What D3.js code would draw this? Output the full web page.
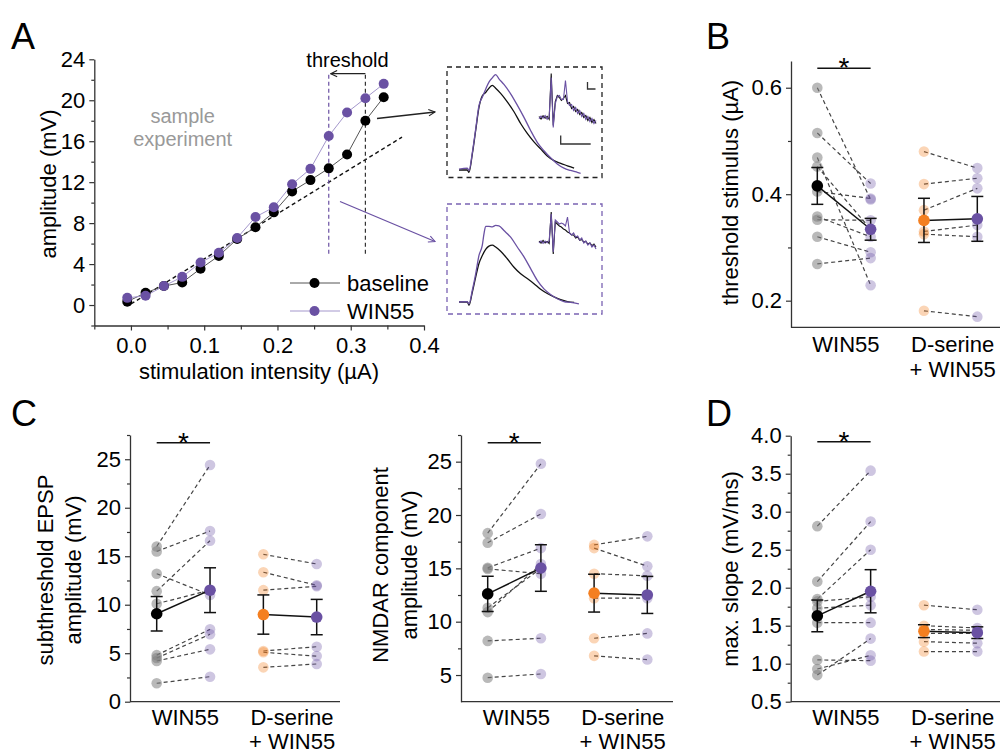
<!DOCTYPE html>
<html>
<head>
<meta charset="utf-8">
<script src="https://cdn.jsdelivr.net/npm/d3@7"></script>
<style>
  body { margin: 0; background: #fff; }
  svg { display: block; font-family: "Liberation Sans", Arial, Helvetica, sans-serif; }
</style>
</head>
<body>
<svg id="fig" width="1000" height="754"></svg>
<script>
// ---------------- data ----------------
// A: input-output curve of one sample experiment
const stimIntensity = [-0.005, 0.02, 0.045, 0.07, 0.095, 0.12, 0.145, 0.17, 0.195, 0.22, 0.245, 0.27, 0.295, 0.32, 0.345];
const ampBaseline   = [0.33, 1.2, 1.85, 2.2, 3.55, 4.8, 6.45, 7.6, 9.05, 11.1, 12.2, 13.35, 14.7, 18.0, 20.3];
const ampWin        = [0.7, 0.9, 1.85, 2.75, 4.15, 5.1, 6.55, 8.6, 9.55, 11.8, 13.3, 16.5, 18.8, 20.2, 21.6];
const fitX = [0.0, 0.37];
const fitY = [0.1, 16.4];
const thresholdX = [0.32, 0.27];          // baseline, WIN55
const thresholdSpan = [5.0, 22.6];        // amplitude range of threshold markers
const xTicksA = [0, 0.1, 0.2, 0.3, 0.4];
const xMinorA = [-0.05, 0.05, 0.15, 0.25, 0.35];
const yTicksA = [0, 4, 8, 12, 16, 20, 24];
const yMinorA = [-2, 2, 6, 10, 14, 18, 22];

// A insets: EPSP traces (time in ms, amplitude in mV)
const traceTime1  = [0, 13.7, 16.4, 21.9, 27.4, 32.8, 38.3, 43.8, 49.2, 54.7, 60.2, 68.4, 79.3, 90.3, 101.2, 112.1, 123.1, 134, 145, 156, 167, 178, 189];
const traceBase1  = [0, 0, -0.5, 3.4, 8.4, 13.3, 15.8, 16.5, 17.4, 18.0, 17.4, 16.3, 14.5, 12.4, 9.9, 7.8, 6.0, 4.5, 3.0, 2.0, 1.4, 0.9, 0.4];
const traceTimeW1 = [0, 13.7, 16.4, 21.9, 27.4, 32.8, 38.3, 43.8, 49.2, 54.7, 60.2, 65.6, 73.8, 84.8, 95.7, 106.7, 117.6, 128.5, 139.5, 150.4, 161.4, 172.3, 183.2, 194.2, 199.7];
const traceWin1   = [0.2, 0.4, -0.1, 3.7, 8.7, 13.7, 15.5, 17.2, 18.7, 19.6, 20.3, 19.4, 18.2, 16.2, 13.8, 11.2, 8.4, 5.9, 4.1, 2.6, 1.3, 0.4, -0.1, -0.5, -0.7];
const traceTime2  = [0, 13.7, 16.4, 21.9, 27.4, 32.8, 38.3, 43.8, 49.2, 54.7, 60.2, 68.4, 79.3, 90.3, 101.2, 112.1, 123.1, 134, 145, 156, 167, 178, 189];
const traceBase2  = [0, 0, -0.7, 2.1, 5.3, 8.2, 9.9, 11.2, 11.9, 12.1, 11.7, 10.8, 9.2, 7.4, 6.0, 5.0, 3.9, 2.7, 1.8, 1.1, 0.5, 0.1, -0.1];
const traceTimeW2 = [0, 13.7, 16.4, 21.9, 27.4, 32.8, 38.3, 41, 43.8, 49.2, 54.7, 60.2, 65.6, 73.8, 84.8, 95.7, 106.7, 117.6, 128.5, 139.5, 150.4, 161.4, 172.3, 183.2, 196.9];
const traceWin2   = [0, 0.1, -0.4, 2.5, 6.0, 9.9, 12.1, 14.5, 16.1, 16.1, 16.0, 16.3, 16.2, 15.2, 13.8, 11.7, 9.6, 7.1, 4.6, 2.8, 1.6, 0.7, 0.1, -0.1, -0.4];

// A insets: NMDAR component traces, sampled every 2 ms
const nmdaBase1 = [0.5, -0.8, 0.9, -0.4, 0.6, -0.9, 22, -4, 8, 11, 10, 8.5, 9.5, 11, 7, 7.5, 4.5, 5.5, 3, 4, 1.5, 2.5, 0, 1, -1.5, 0, -2.5, -1, -3];
const nmdaWin1  = [-0.6, 0.7, -0.3, 1.0, -0.9, 0.4, 20, -5, 7, 10.5, 11, 9, 9, 18.5, 8, 6, 6.5, 3.5, 5, 2, 3.5, 0.5, 2, -1, 0.5, -2, -0.5, -3, -1.5];
const nmdaBase2 = [0.4, -0.6, 0.8, -0.5, 0.3, -0.7, 15, -6, 10, 9, 8, 7.5, 6.5, 6, 5, 4.5, 3.5, 3.5, 2, 2.5, 0.8, 1.2, 0, 0.3, -1, -0.5, -1.8, -1, -2.5];
const nmdaWin2  = [-0.5, 0.6, -0.7, 0.5, -0.4, 0.7, 14, -5, 11, 10, 9, 9.5, 9, 8, 12.5, 4.5, 3.5, 4.5, 2.5, 3, 1, 2, -0.5, 0.5, -1.5, -0.5, -2.5, -1.5, -3.5];

// B: threshold stimulus (µA), paired cells
const thrBase     = [0.6, 0.515, 0.469, 0.452, 0.405, 0.358, 0.352, 0.32, 0.269];
const thrWin      = [0.39, 0.42, 0.229, 0.334, 0.392, 0.32, 0.351, 0.291, 0.28];
const thrDser     = [0.48, 0.419, 0.37, 0.33, 0.325, 0.181];
const thrDserWin  = [0.449, 0.43, 0.411, 0.342, 0.32, 0.17];

// C: subthreshold EPSP amplitude (mV)
const epspBase    = [16.0, 15.5, 11.4, 13.2, 10.1, 4.8, 4.5, 4.2, 1.9];
const epspWin     = [24.4, 17.6, 16.6, 11.0, 11.5, 7.46, 6.95, 5.4, 2.58];
const epspDser    = [15.2, 13.35, 11.5, 5.23, 5.1, 3.54];
const epspDserWin = [14.2, 12.0, 11.9, 5.67, 4.7, 3.89];

// C: NMDAR component amplitude (mV)
const nmdaAmpBase    = [18.3, 17.4, 15.05, 14.95, 11.3, 10.9, 8.2, 4.75];
const nmdaAmpWin     = [24.8, 20.1, 16.9, 14.5, 15.0, 15.4, 8.45, 5.1];
const nmdaAmpDser    = [17.2, 16.9, 14.5, 12.2, 8.45, 6.8];
const nmdaAmpDserWin = [18.0, 15.2, 14.3, 12.2, 8.9, 6.45];

// D: maximal slope (mV/ms)
const slopeBase    = [2.81, 2.08, 1.85, 1.82, 1.73, 1.54, 1.05, 0.93, 0.85];
const slopeWin     = [3.54, 2.87, 2.50, 1.88, 1.77, 1.54, 1.04, 1.11, 1.33];
const slopeDser    = [1.77, 1.50, 1.45, 1.40, 1.29, 1.16];
const slopeDserWin = [1.71, 1.47, 1.44, 1.40, 1.27, 1.16];

const groupLabels = [["WIN55"], ["D-serine", "+ WIN55"]];

// ---------------- drawing ----------------
const svg = d3.select("#fig");
const PURPLE = "#6a51a3", ORANGE = "#f47f20", AX = "#333", GRAY = "#7f7f7f";

function text(x, y, str, size, opts = {}) {
  const t = svg.append("text")
    .attr("x", x).attr("y", y)
    .attr("font-size", size)
    .attr("fill", opts.fill || "#000")
    .attr("text-anchor", opts.anchor || "middle")
    .text(str);
  if (opts.rotate) t.attr("transform", `rotate(-90,${x},${y})`);
  if (opts.weight) t.attr("font-weight", opts.weight);
  return t;
}

function styleAxis(g) {
  g.select(".domain").attr("stroke", AX).attr("stroke-width", 1.3);
  g.selectAll(".tick line").attr("stroke", AX).attr("stroke-width", 1.2);
  g.selectAll(".tick text").attr("font-size", 22).attr("fill", "#000")
    .attr("font-family", '"Liberation Sans", Arial, sans-serif');
}

const defs = svg.append("defs");
function arrowMarker(id, color) {
  defs.append("marker").attr("id", id)
    .attr("viewBox", "0 0 10 10").attr("refX", 9).attr("refY", 5)
    .attr("markerWidth", 8).attr("markerHeight", 8).attr("orient", "auto")
    .attr("markerUnits", "userSpaceOnUse")
    .append("path").attr("d", "M1,1 L9,5 L1,9").attr("fill", "none")
    .attr("stroke", color).attr("stroke-width", 1.4);
}
arrowMarker("arrK", "#222");
arrowMarker("arrP", PURPLE);

// ----- panel letters -----
[["A", 11, 49], ["B", 706, 49], ["C", 11, 426], ["D", 706, 426]].forEach(([s, x, y]) =>
  text(x, y, s, 36, { anchor: "start" }));

// ===== Panel A =====
const xA = d3.scaleLinear([-0.05, 0.4], [94.3, 424]);
const yA = d3.scaleLinear([-2, 24], [325.5, 59.3]);

const gxA = svg.append("g").attr("transform", `translate(0,${yA(-2)})`)
  .call(d3.axisBottom(xA).tickValues(xTicksA).tickSize(5).tickSizeOuter(0)
    .tickPadding(7).tickFormat(d3.format(".1f")));
styleAxis(gxA);
const gxAm = svg.append("g").attr("transform", `translate(0,${yA(-2)})`)
  .call(d3.axisBottom(xA).tickValues(xMinorA).tickSize(4).tickSizeOuter(0).tickFormat(""));
styleAxis(gxAm);
gxAm.select(".domain").remove();

const gyA = svg.append("g").attr("transform", `translate(${xA(-0.05)},0)`)
  .call(d3.axisLeft(yA).tickValues(yTicksA).tickSize(5).tickSizeOuter(0).tickPadding(4));
styleAxis(gyA);
const gyAm = svg.append("g").attr("transform", `translate(${xA(-0.05)},0)`)
  .call(d3.axisLeft(yA).tickValues(yMinorA).tickSize(3).tickSizeOuter(0).tickFormat(""));
styleAxis(gyAm);
gyAm.select(".domain").remove();

text(259, 379, "stimulation intensity (µA)", 22);
text(56, 184, "amplitude (mV)", 22, { rotate: true });

// linear fit of the low-intensity range
svg.append("line")
  .attr("x1", xA(fitX[0])).attr("y1", yA(fitY[0]))
  .attr("x2", xA(fitX[1])).attr("y2", yA(fitY[1]))
  .attr("stroke", "#111").attr("stroke-width", 1.4).attr("stroke-dasharray", "4,3");

// threshold markers
svg.append("line")
  .attr("x1", xA(thresholdX[0])).attr("x2", xA(thresholdX[0]))
  .attr("y1", yA(thresholdSpan[0])).attr("y2", yA(thresholdSpan[1]))
  .attr("stroke", "#333").attr("stroke-width", 1.2).attr("stroke-dasharray", "4,3");
svg.append("line")
  .attr("x1", xA(thresholdX[1])).attr("x2", xA(thresholdX[1]))
  .attr("y1", yA(thresholdSpan[0])).attr("y2", yA(thresholdSpan[1]))
  .attr("stroke", PURPLE).attr("stroke-width", 1.2).attr("stroke-dasharray", "4,3");
svg.append("line")
  .attr("x1", xA(thresholdX[0])).attr("x2", xA(thresholdX[1]) + 2)
  .attr("y1", yA(thresholdSpan[1])).attr("y2", yA(thresholdSpan[1]))
  .attr("stroke", "#222").attr("stroke-width", 1.2).attr("marker-end", "url(#arrK)");
text(347.5, 67, "threshold", 20);

text(182.7, 123, "sample", 20, { fill: "#999" });
text(182.7, 146, "experiment", 20, { fill: "#999" });

const lineA = d3.line().x((d, i) => xA(stimIntensity[i])).y(d => yA(d));
svg.append("path").datum(ampBaseline).attr("d", lineA)
  .attr("fill", "none").attr("stroke", "#555").attr("stroke-width", 1);
svg.append("path").datum(ampWin).attr("d", lineA)
  .attr("fill", "none").attr("stroke", "#a497cc").attr("stroke-width", 1);
svg.append("g").selectAll("circle").data(ampBaseline).join("circle")
  .attr("cx", (d, i) => xA(stimIntensity[i])).attr("cy", d => yA(d)).attr("r", 5)
  .attr("fill", "#000");
svg.append("g").selectAll("circle").data(ampWin).join("circle")
  .attr("cx", (d, i) => xA(stimIntensity[i])).attr("cy", d => yA(d)).attr("r", 5)
  .attr("fill", PURPLE);

// legend
[["baseline", "#000", "#555", 283], ["WIN55", PURPLE, "#a497cc", 311]].forEach(([s, c, lc, y]) => {
  svg.append("line").attr("x1", 290).attr("x2", 340).attr("y1", y).attr("y2", y)
    .attr("stroke", lc).attr("stroke-width", 1);
  svg.append("circle").attr("cx", 314.5).attr("cy", y).attr("r", 5).attr("fill", c);
  text(347, y + 8, s, 22, { anchor: "start" });
});

// arrows to the inset traces
svg.append("line").attr("x1", 377).attr("y1", 118.5).attr("x2", 435).attr("y2", 112)
  .attr("stroke", "#222").attr("stroke-width", 1.3).attr("marker-end", "url(#arrK)");
svg.append("line").attr("x1", 340).attr("y1", 201.5).attr("x2", 435).attr("y2", 241.5)
  .attr("stroke", PURPLE).attr("stroke-width", 1.3).attr("marker-end", "url(#arrP)");

// inset boxes
svg.append("rect").attr("x", 447).attr("y", 67).attr("width", 155).attr("height", 110.5)
  .attr("fill", "none").attr("stroke", "#222").attr("stroke-width", 1.3).attr("stroke-dasharray", "5,4");
svg.append("rect").attr("x", 447).attr("y", 204).attr("width", 155).attr("height", 110)
  .attr("fill", "none").attr("stroke", "#7a63b3").attr("stroke-width", 1.3).attr("stroke-dasharray", "5,4");

const tScale = d3.scaleLinear([0, 200], [459, 580.8]);
function epsp(times, vals, base, color) {
  const y = d3.scaleLinear([0, 1], [base, base - 4.7]);
  svg.append("path").datum(vals)
    .attr("d", d3.line().x((d, i) => tScale(times[i])).y(d => y(d)).curve(d3.curveMonotoneX))
    .attr("fill", "none").attr("stroke", color).attr("stroke-width", 1.3);
}
epsp(traceTime1, traceBase1, 170, "#111");
epsp(traceTimeW1, traceWin1, 170, PURPLE);
epsp(traceTime2, traceBase2, 302, "#111");
epsp(traceTimeW2, traceWin2, 302, PURPLE);

const sScale = d3.scaleLinear([0, 56], [539, 596]);
function nmdaTrace(vals, base, color) {
  const y = d3.scaleLinear([0, 1], [base, base - 2]);
  svg.append("path").datum(vals)
    .attr("d", d3.line().x((d, i) => sScale(i * 2)).y(d => y(d)))
    .attr("fill", "none").attr("stroke", color).attr("stroke-width", 1.1);
}
nmdaTrace(nmdaBase1, 117.5, "#111");
nmdaTrace(nmdaWin1, 117.5, PURPLE);
nmdaTrace(nmdaBase2, 242, "#111");
nmdaTrace(nmdaWin2, 242, PURPLE);

// scale bars
svg.append("path").attr("d", "M587.5,82 V89 H595.5").attr("fill", "none").attr("stroke", "#333").attr("stroke-width", 1.3);
svg.append("path").attr("d", "M560.7,135.5 V144 H590.7").attr("fill", "none").attr("stroke", "#333").attr("stroke-width", 1.3);

// ===== paired panels (B, C, D) =====
function pairedPanel(cfg) {
  const y = d3.scaleLinear(cfg.domain, [cfg.bottom, cfg.top]);
  const x = d3.scalePoint(["b0", "w0", "b1", "w1"], cfg.xRange);
  const axisX = cfg.axisX;

  const gy = svg.append("g").attr("transform", `translate(${axisX},0)`)
    .call(d3.axisLeft(y).tickValues(cfg.major).tickSize(5).tickSizeOuter(0)
      .tickPadding(4).tickFormat(d3.format(cfg.fmt)));
  styleAxis(gy);
  const gym = svg.append("g").attr("transform", `translate(${axisX},0)`)
    .call(d3.axisLeft(y).tickValues(cfg.minor).tickSize(3).tickSizeOuter(0).tickFormat(""));
  styleAxis(gym);
  gym.select(".domain").remove();
  svg.append("line").attr("x1", axisX).attr("x2", cfg.xEnd)
    .attr("y1", cfg.bottom).attr("y2", cfg.bottom)
    .attr("stroke", AX).attr("stroke-width", 1.3);

  // category labels
  groupLabels.forEach((lines, gi) => {
    const cx = (x("b" + gi) + x("w" + gi)) / 2 + 2;
    lines.forEach((s, li) => text(cx, cfg.bottom + cfg.labelGap + li * cfg.lineGap, s, 22));
  });

  cfg.groups.forEach((g, gi) => {
    const xb = x("b" + gi), xw = x("w" + gi);
    // paired dashed lines
    svg.append("g").selectAll("line").data(g.base).join("line")
      .attr("x1", xb).attr("x2", xw)
      .attr("y1", d => y(d)).attr("y2", (d, i) => y(g.drug[i]))
      .attr("stroke", "#444").attr("stroke-width", 1.2).attr("stroke-dasharray", "4,3");
    // individual cells
    svg.append("g").selectAll("circle").data(g.base).join("circle")
      .attr("cx", xb).attr("cy", d => y(d)).attr("r", 5.3)
      .attr("fill", g.baseColor).attr("fill-opacity", g.baseOpacity);
    svg.append("g").selectAll("circle").data(g.drug).join("circle")
      .attr("cx", xw).attr("cy", d => y(d)).attr("r", 5.3)
      .attr("fill", PURPLE).attr("fill-opacity", 0.33);

    // mean ± SEM
    const stats = [g.base, g.drug].map(v => {
      const m = d3.mean(v);
      const sem = d3.deviation(v) / Math.sqrt(v.length);
      return { m, sem };
    });
    svg.append("line").attr("x1", xb).attr("x2", xw)
      .attr("y1", y(stats[0].m)).attr("y2", y(stats[1].m))
      .attr("stroke", "#111").attr("stroke-width", 1.5);
    [[xb, stats[0], g.meanColor], [xw, stats[1], PURPLE]].forEach(([cx, s, col]) => {
      const e = svg.append("g").attr("stroke", "#111").attr("stroke-width", 1.5);
      e.append("line").attr("x1", cx).attr("x2", cx).attr("y1", y(s.m - s.sem)).attr("y2", y(s.m + s.sem));
      e.append("line").attr("x1", cx - 6).attr("x2", cx + 6).attr("y1", y(s.m - s.sem)).attr("y2", y(s.m - s.sem));
      e.append("line").attr("x1", cx - 6).attr("x2", cx + 6).attr("y1", y(s.m + s.sem)).attr("y2", y(s.m + s.sem));
      svg.append("circle").attr("cx", cx).attr("cy", y(s.m)).attr("r", 5.8).attr("fill", col);
    });
  });

  // significance bar over the WIN55 pair
  svg.append("line").attr("x1", x("b0")).attr("x2", x("w0"))
    .attr("y1", cfg.sigY).attr("y2", cfg.sigY)
    .attr("stroke", "#111").attr("stroke-width", 1.5);
  text((x("b0") + x("w0")) / 2, cfg.sigY + 9, "*", 28);

  cfg.titles.forEach(([s, tx]) => text(tx, cfg.titleY, s, 22, { rotate: true }));
}

function groupsFrom(base, drug, dser, dserDrug) {
  return [
    { base: base, drug: drug, baseColor: GRAY, baseOpacity: 0.55, meanColor: "#000" },
    { base: dser, drug: dserDrug, baseColor: ORANGE, baseOpacity: 0.33, meanColor: ORANGE }
  ];
}

// B
pairedPanel({
  domain: [0.15, 0.65], bottom: 327.3, top: 61.1, axisX: 791, xEnd: 1000,
  xRange: [817.3, 977.3], major: [0.2, 0.4, 0.6], minor: [0.3, 0.5], fmt: ".1f",
  labelGap: 25, lineGap: 25, sigY: 68.3,
  groups: groupsFrom(thrBase, thrWin, thrDser, thrDserWin),
  titles: [["threshold stimulus (µA)", 738]], titleY: 192.5
});

// C left
pairedPanel({
  domain: [0, 27.5], bottom: 701.7, top: 435, axisX: 130, xEnd: 340,
  xRange: [156.7, 316.7], major: [0, 5, 10, 15, 20, 25], minor: [2.5, 7.5, 12.5, 17.5, 22.5, 27.5], fmt: "d",
  labelGap: 23, lineGap: 24, sigY: 442.7,
  groups: groupsFrom(epspBase, epspWin, epspDser, epspDserWin),
  titles: [["subthreshold EPSP", 52.5], ["amplitude (mV)", 81]], titleY: 570
});

// C right
pairedPanel({
  domain: [2.5, 27.5], bottom: 701.7, top: 435, axisX: 461, xEnd: 673,
  xRange: [487.7, 647.3], major: [5, 10, 15, 20, 25], minor: [7.5, 12.5, 17.5, 22.5, 27.5], fmt: "d",
  labelGap: 23, lineGap: 24, sigY: 442.7,
  groups: groupsFrom(nmdaAmpBase, nmdaAmpWin, nmdaAmpDser, nmdaAmpDserWin),
  titles: [["NMDAR component", 388], ["amplitude (mV)", 416.5]], titleY: 565
});

// D
pairedPanel({
  domain: [0.5, 4.0], bottom: 701.7, top: 435.7, axisX: 790.7, xEnd: 1000,
  xRange: [817.3, 977.3], major: [0.5, 1.0, 1.5, 2.0, 2.5, 3.0, 3.5, 4.0],
  minor: [0.75, 1.25, 1.75, 2.25, 2.75, 3.25, 3.75], fmt: ".1f",
  labelGap: 23, lineGap: 24, sigY: 441.7,
  groups: groupsFrom(slopeBase, slopeWin, slopeDser, slopeDserWin),
  titles: [["max. slope (mV/ms)", 738]], titleY: 569
});
</script>
</body>
</html>
